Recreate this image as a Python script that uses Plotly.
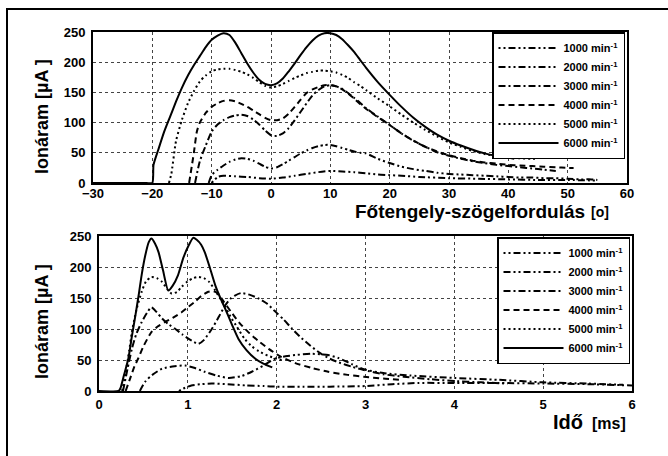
import plotly.graph_objects as go

W, H = 668, 456

# ---------------- data: top panel (crank angle, deg) ----------------
labels = ["1000 min<sup>-1</sup>", "2000 min<sup>-1</sup>", "3000 min<sup>-1</sup>",
          "4000 min<sup>-1</sup>", "5000 min<sup>-1</sup>", "6000 min<sup>-1</sup>"]

a1000_x = [-10, -9, -8, -6, -4, -2, 0, 2, 4, 6, 8, 10, 12, 14, 16, 18, 20, 22, 25, 30, 35, 40, 45, 50, 55]
a1000_y = [0, 10, 12, 11, 10, 8, 7, 9, 12, 15, 18, 20, 19, 18, 16, 14, 13, 12, 10, 8, 7, 6, 5, 5, 4]

a2000_x = [-10.5, -10, -9, -8, -7, -6, -5, -4, -3, -2, -1, 0, 1, 2, 3, 4, 5, 6, 7, 8, 9, 10, 11, 12, 13, 14, 15, 16,
           18, 20, 22, 24, 26, 28, 30, 32, 34, 36, 38, 40, 42, 44, 46, 48, 50, 52, 54, 55]
a2000_y = [0, 13, 22, 29, 35, 39, 41, 40, 37, 32, 27, 24, 26, 31, 37, 43, 49, 54, 58, 61, 63, 63, 61, 58, 55, 52, 50, 49,
           40, 33, 27, 23, 20, 17, 15, 14, 13, 12, 11, 10, 9, 9, 8, 8, 7, 6, 6, 5]

a3000_x = [-12.8, -12, -11, -10, -9, -8, -7, -6, -5, -4, -3, -2, -1, 0, 1, 2, 3, 4, 5, 6, 7, 8, 9, 10, 11, 12, 13, 14,
           15, 16, 18, 20, 22, 24, 26, 28, 30, 32, 34, 36, 38, 40, 42, 44, 46, 48]
a3000_y = [0, 36, 62, 85, 97, 104, 109, 112, 113, 111, 105, 97, 87, 79, 78, 82, 91, 104, 118, 132, 145, 154, 160, 162,
           160, 156, 149, 141, 133, 124, 110, 96, 82, 70, 60, 51, 45, 40, 36, 33, 30, 28, 26, 24, 22, 20]

a4000_x = [-13.8, -13, -12.5, -12, -11, -10, -9, -8, -7, -6, -5, -4, -3, -2, -1, 0, 1, 2, 3, 4, 5, 6, 7, 8, 9, 10, 11,
           12, 13, 14, 15, 16, 18, 20, 22, 24, 26, 28, 30, 32, 34, 36, 38, 40, 42, 44, 46, 48, 50, 51]
a4000_y = [0, 50, 85, 100, 116, 126, 132, 136, 137, 135, 131, 126, 120, 114, 108, 104, 104, 107, 115, 126, 138, 149,
           155, 159, 162, 162, 160, 155, 148, 140, 131, 123, 109, 96, 82, 70, 60, 52, 46, 41, 37, 34, 32, 30, 29, 28,
           27, 26, 25, 25]

a5000_x = [-17.2, -16.8, -16, -15, -14, -13, -12, -11, -10, -9, -8, -7, -6, -5, -4, -3, -2, -1, 0, 1, 2, 3, 4, 5, 6,
           7, 8, 9, 10, 11, 12, 13, 14, 15, 16, 18, 20, 22, 24, 26, 28, 30, 32, 34, 36, 38, 40, 42, 44, 45]
a5000_y = [0, 15, 70, 105, 132, 152, 168, 178, 185, 188, 189, 189, 187, 184, 180, 174, 167, 161, 158, 160, 164, 169,
           174, 178, 182, 184, 186, 186, 185, 183, 179, 174, 167, 161, 154, 140, 127, 113, 100, 88, 77, 67, 60, 53, 48,
           45, 42, 41, 40, 40]

a6000_x = [-30, -21, -20, -19.8, -19, -18, -17, -16, -15, -14, -13, -12, -11, -10, -9, -8, -7, -6, -5, -4, -3, -2, -1,
           0, 1, 2, 3, 4, 5, 6, 7, 8, 9, 10, 11, 12, 13, 14, 15, 16, 18, 20, 22, 24, 26, 28, 30, 32, 34, 36, 38, 40, 41]
a6000_y = [0, 0, 0, 30, 55, 85, 110, 135, 158, 178, 195, 210, 225, 237, 244, 248, 245, 232, 215, 198, 183, 171, 164,
           162, 165, 173, 185, 198, 212, 225, 236, 244, 248, 248, 245, 238, 228, 217, 204, 191, 167, 146, 126, 108, 93,
           80, 70, 62, 55, 49, 45, 42, 40]

# ---------------- data: bottom panel (time, ms) ----------------
t1000_x = [0.9, 0.95, 1.04, 1.15, 1.27, 1.45, 1.65, 1.85, 2.0, 2.3, 2.6, 3.0, 3.3, 3.6, 4.0, 4.5, 5.0, 5.5, 6.0]
t1000_y = [0, 4, 9, 11, 12, 11, 9, 8, 7, 7, 7, 8, 11, 13, 13, 13, 12, 11, 9]

t2000_x = [0.46, 0.52, 0.6, 0.71, 0.85, 0.97, 1.08, 1.19, 1.32, 1.46, 1.6, 1.72, 1.85, 1.98, 2.1, 2.21, 2.4, 2.58,
           2.7, 2.85, 2.98, 3.2, 3.5, 4.0, 4.5, 5.0, 5.5, 5.9]
t2000_y = [0, 15, 26, 36, 40, 41, 37, 31, 25, 21, 24, 31, 41, 52, 56, 58, 60, 58, 53, 43, 35, 29, 25, 21, 18, 14, 12, 10]

t3000_x = [0.27, 0.32, 0.37, 0.42, 0.48, 0.54, 0.59, 0.65, 0.71, 0.78, 0.86, 0.94, 1.01, 1.07, 1.12, 1.18, 1.27, 1.35,
           1.42, 1.48, 1.53, 1.6, 1.7, 1.8, 1.89, 2.0, 2.08, 2.17, 2.26, 2.38, 2.49, 2.6, 2.7, 2.85, 2.98, 3.2, 3.43,
           3.73, 4.0, 4.3, 4.6]
t3000_y = [0, 35, 68, 92, 111, 126, 135, 127, 117, 108, 100, 91, 84, 79, 76, 82, 100, 120, 138, 149, 154, 158, 155,
           149, 141, 126, 115, 101, 88, 73, 61, 52, 46, 39, 34, 27, 23, 19, 16, 14, 12]

t4000_x = [0.3, 0.35, 0.4, 0.44, 0.5, 0.59, 0.66, 0.74, 0.83, 0.93, 1.0, 1.08, 1.15, 1.23, 1.29, 1.34, 1.4, 1.49, 1.58,
           1.68, 1.8, 1.91, 2.05, 2.21, 2.4, 2.58, 2.8, 2.98, 3.2, 3.4]
t4000_y = [0, 20, 40, 52, 72, 95, 104, 111, 118, 127, 135, 144, 153, 160, 161, 157, 145, 127, 110, 95, 80, 68, 55, 45,
           37, 31, 26, 23, 20, 18]

t5000_x = [0.26, 0.3, 0.34, 0.37, 0.42, 0.48, 0.53, 0.59, 0.65, 0.71, 0.77, 0.82, 0.88, 0.93, 1.0, 1.06, 1.12, 1.18,
           1.24, 1.3, 1.36, 1.42, 1.48, 1.55, 1.64, 1.72, 1.8, 1.9, 2.0, 2.06]
t5000_y = [0, 30, 65, 95, 130, 160, 177, 184, 182, 176, 164, 157, 160, 168, 177, 182, 184, 182, 176, 164, 150, 136, 120,
           104, 84, 72, 64, 57, 52, 50]

t6000_x = [0, 0.22, 0.24, 0.28, 0.33, 0.37, 0.41, 0.45, 0.48, 0.52, 0.56, 0.59, 0.63, 0.67, 0.72, 0.78, 0.83, 0.89,
           0.95, 1.01, 1.06, 1.1, 1.15, 1.19, 1.25, 1.31, 1.36, 1.42, 1.5, 1.57, 1.66, 1.76, 1.85, 1.95]
t6000_y = [0, 0, 4, 25, 52, 88, 122, 158, 187, 218, 240, 246, 238, 224, 195, 162, 170, 187, 215, 235, 247, 244, 236,
           224, 198, 170, 152, 133, 106, 84, 66, 52, 44, 38]

x_ticks_top = [-30, -20, -10, 0, 10, 20, 30, 40, 50, 60]
x_ticks_bot = [0, 1, 2, 3, 4, 5, 6]
y_ticks = [0, 50, 100, 150, 200, 250]

# ---------------- styles ----------------
dashes = ["2px,3px,2px,3px,7px,3px",   # 1000  ..-..
          "7px,3px,2px,3px,2px,3px",   # 2000  -..-
          "7px,3px,2px,3px",           # 3000  -.-.
          "6px,4px",                   # 4000  ----
          "2px,3px",                   # 5000  ....
          "solid"]                     # 6000
FONT = "Arial, Liberation Sans, sans-serif"

fig = go.Figure()

top = [(a1000_x, a1000_y), (a2000_x, a2000_y), (a3000_x, a3000_y),
       (a4000_x, a4000_y), (a5000_x, a5000_y), (a6000_x, a6000_y)]
bot = [(t1000_x, t1000_y), (t2000_x, t2000_y), (t3000_x, t3000_y),
       (t4000_x, t4000_y), (t5000_x, t5000_y), (t6000_x, t6000_y)]

for i, (xs, ys) in enumerate(top):
    fig.add_trace(go.Scatter(x=xs, y=ys, mode="lines", name=labels[i], xaxis="x", yaxis="y",
                             line=dict(color="black", width=2, dash=dashes[i], shape="spline", smoothing=0.6),
                             legend="legend"))
for i, (xs, ys) in enumerate(bot):
    fig.add_trace(go.Scatter(x=xs, y=ys, mode="lines", name=labels[i], xaxis="x2", yaxis="y2",
                             line=dict(color="black", width=2, dash=dashes[i], shape="spline", smoothing=0.6),
                             legend="legend2"))

def px_x(p):
    return p / W

def px_y(p):
    return 1 - p / H

axis_common = dict(showline=True, linecolor="black", linewidth=2, mirror=True, ticks="", automargin=False,
                   showgrid=True, gridcolor="#444", griddash="dot", gridwidth=1, zeroline=False,
                   tickfont=dict(family=FONT, size=13, color="black", weight="bold"))

legend_common = dict(bgcolor="white", bordercolor="black", borderwidth=1.5, itemwidth=60,
                     font=dict(family=FONT, size=11, color="black", weight="bold"),
                     xanchor="left", yanchor="top", tracegroupgap=0)

fig.update_layout(
    width=W, height=H, margin=dict(l=0, r=0, t=0, b=0, autoexpand=False),
    paper_bgcolor="white", plot_bgcolor="white", showlegend=True,
    xaxis=dict(domain=[px_x(93), px_x(627)], range=[-30, 60], tickvals=x_ticks_top, anchor="y",
               ticklabelstandoff=-3, **axis_common),
    yaxis=dict(domain=[px_y(183), px_y(32)], range=[0, 250], tickvals=y_ticks, anchor="x",
               ticklabelstandoff=3, **axis_common),
    xaxis2=dict(domain=[px_x(99), px_x(632)], range=[0, 6], tickvals=x_ticks_bot, anchor="y2",
                ticklabelstandoff=0, **axis_common),
    yaxis2=dict(domain=[px_y(391), px_y(236)], range=[0, 250], tickvals=y_ticks, anchor="x2",
                ticklabelstandoff=3, **axis_common),
    legend=dict(x=px_x(492), y=px_y(32), **legend_common),
    legend2=dict(x=px_x(497), y=px_y(237), **legend_common),
)

annots = [
    dict(text="Ionáram [µA ]", x=px_x(42), y=px_y(117), textangle=-90, xanchor="center", font_size=18),
    dict(text="Ionáram [µA ]", x=px_x(42), y=px_y(322), textangle=-90, xanchor="center", font_size=18),
    dict(text="Főtengely-szögelfordulás", x=px_x(587), y=px_y(211), xanchor="right", font_size=19),
    dict(text="[o]", x=px_x(589), y=px_y(212), xanchor="left", font_size=14),
    dict(text="Idő", x=px_x(585), y=px_y(422), xanchor="right", font_size=20),
    dict(text="[ms]", x=px_x(590), y=px_y(423), xanchor="left", font_size=16),
]
for a in annots:
    fs = a.pop("font_size")
    fig.add_annotation(xref="paper", yref="paper", showarrow=False, yanchor="middle",
                       font=dict(family=FONT, size=fs, color="black", weight="bold"), **a)

fig.add_shape(type="rect", xref="paper", yref="paper", x0=px_x(7), x1=1.02, y0=px_y(9), y1=-0.05,
              line=dict(color="black", width=2))

fig.write_html("out.html", config={"displayModeBar": False},
               post_script="document.body.style.margin='0';")
